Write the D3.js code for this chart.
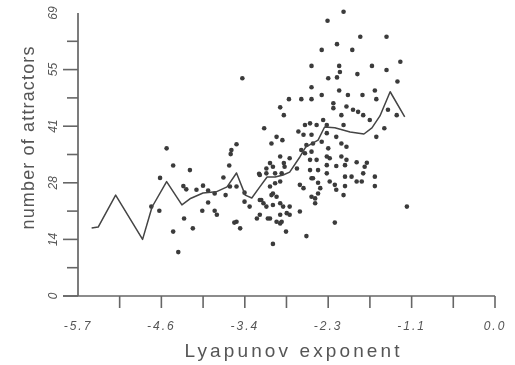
<!DOCTYPE html>
<html>
<head>
<meta charset="utf-8">
<script src="https://cdn.jsdelivr.net/npm/d3@7"></script>
<style>
  body { margin: 0; background: #fff; }
  svg { display: block; }
  .tick-label { font-family: "Liberation Sans", Arial, sans-serif; font-style: italic; fill: #555; }
  .title { font-family: "Liberation Sans", Arial, sans-serif; fill: #555; }
</style>
</head>
<body>
<div id="vis"></div>
<script>
const FRAME_WIDTH = 515;
const FRAME_HEIGHT = 365;
const MARGINS = {left: 78, right: 20, top: 13, bottom: 69};

// x ticks (every 0.5727) and the labelled ones
const xTickValues = [-5.727, -5.155, -4.582, -4.009, -3.436, -2.864, -2.291, -1.718, -1.145, -0.573, 0];
const xTickLabels = ["-5.7", "", "-4.6", "", "-3.4", "", "-2.3", "", "-1.1", "", "0.0"];
// y ticks (every 6.9) and the labelled ones
const yTickValues = [0, 6.9, 13.8, 20.7, 27.6, 34.5, 41.4, 48.3, 55.2, 62.1, 69];
const yTickLabels = ["0", "", "14", "", "28", "", "41", "", "55", "", "69"];

// mean curve
const lineX = [-5.54, -5.45, -5.21, -4.84, -4.71, -4.51, -4.30, -4.19, -4.01, -3.83, -3.68, -3.55, -3.43,
               -3.34, -3.23, -3.13, -3.02, -2.91, -2.82, -2.68, -2.60, -2.43, -2.34, -2.20, -1.99, -1.80,
               -1.69, -1.58, -1.44, -1.24];
const lineY = [16.6, 16.8, 24.6, 13.8, 21.7, 27.9, 22.2, 23.7, 25.1, 25.4, 26.6, 30.0, 24.6,
               23.9, 26.6, 29.0, 29.0, 29.5, 30.2, 33.9, 36.3, 38.0, 41.2, 41.0, 40.0, 39.5,
               41.0, 43.9, 49.8, 43.7];

// scatter points
const dotX = [-4.51, -4.42, -4.19, -4.60, -4.61, -4.72, -4.42, -4.35, -4.27, -4.15, -4.28, -4.24, -4.10,
              -4.01, -3.94, -3.85, -3.94, -4.02, -3.85, -3.82, -3.70, -3.73, -3.65, -3.62, -3.55, -3.63,
              -3.55, -3.50, -3.44, -3.44, -3.37, -3.47, -3.27, -3.23, -3.21, -3.18, -3.17, -3.24, -3.14,
              -3.09, -3.07, -3.00, -2.95, -2.90, -2.83, -2.92, -2.95, -2.90, -3.02, -2.93, -3.05, -3.00,
              -3.14, -3.05, -2.95, -3.09, -3.00, -2.93, -3.05, -2.87, -2.86, -3.64, -3.55, -3.58, -3.14,
              -3.23, -3.09, -3.02, -2.95, -3.07, -3.23, -2.91, -2.82, -2.82, -2.95, -3.12, -2.95, -2.89,
              -2.72, -2.82, -3.05,
              -2.52, -2.52, -2.66, -2.52, -2.54, -2.70, -2.63, -2.66, -2.59, -2.54, -2.54, -2.52, -2.68,
              -2.63, -2.52, -2.68, -2.59,
              -2.08, -2.30, -1.85, -2.17, -2.38, -1.96, -2.14, -1.69, -2.29, -2.17, -2.13, -1.89, -2.38,
              -2.14, -2.02, -1.82, -1.65, -1.63, -2.22, -2.22, -2.04, -1.95, -1.88, -2.11, -1.81, -1.72,
              -2.36, -2.31, -2.61, -2.45, -2.08, -2.31, -2.18, -1.63, -2.52, -2.50, -2.38, -2.29, -2.11,
              -2.04, -2.61, -2.52, -2.31, -2.27, -2.11, -2.45, -2.04, -2.06, -1.90, -1.76, -1.79, -2.31,
              -2.18, -2.43, -2.31, -2.50, -2.43, -2.27, -2.20, -2.06, -1.97, -1.90, -1.83, -1.81, -1.65,
              -1.65, -2.40, -2.43, -2.18, -2.06, -2.08, -2.47, -2.47, -2.20, -1.49, -1.30, -1.49, -1.34,
              -1.47, -1.35, -1.52, -1.21];
const dotY = [36.0, 31.8, 30.7, 28.8, 20.8, 21.8, 15.7, 10.7, 18.9, 16.5, 26.8, 26.0, 25.9,
              26.9, 25.7, 25.0, 22.8, 20.8, 20.8, 19.8, 24.6, 28.9, 31.8, 35.6, 37.0, 34.6,
              18.1, 16.5, 25.2, 23.0, 21.8, 53.1, 18.9, 19.8, 23.4, 22.6, 40.9, 29.8, 31.1,
              32.4, 37.2, 38.8, 46.0, 44.1, 48.0, 38.0, 34.0, 32.4, 29.9, 29.9, 25.0, 24.2,
              21.8, 22.2, 22.6, 18.9, 18.1, 18.1, 12.7, 15.7, 20.2, 26.7, 26.7, 17.9, 29.9,
              29.5, 26.7, 27.5, 27.9, 24.6, 23.4, 21.8, 21.8, 19.8, 19.8, 18.9, 17.7, 31.5,
              31.1, 33.6, 31.5,
              56.1, 50.9, 48.0, 48.0, 42.1, 40.1, 39.3, 35.6, 36.8, 33.2, 30.7, 28.7, 27.1,
              26.3, 24.2, 20.6, 14.6,
              69.3, 67.1, 63.2, 61.4, 60.0, 60.0, 56.1, 56.1, 53.1, 53.3, 54.6, 54.1, 49.0,
              50.1, 49.0, 49.0, 50.1, 48.0, 47.0, 45.8, 46.2, 45.4, 44.9, 44.1, 44.1, 42.9,
              42.9, 41.7, 41.7, 41.7, 41.7, 39.7, 38.8, 38.8, 39.3, 37.2, 37.6, 36.0, 37.2,
              36.4, 34.8, 35.2, 34.0, 33.6, 34.0, 33.2, 33.2, 31.9, 32.6, 32.5, 31.5, 31.9,
              31.7, 30.7, 29.9, 28.7, 27.6, 27.9, 27.1, 29.1, 29.1, 27.9, 27.9, 29.9, 29.1,
              26.8, 26.3, 25.0, 25.9, 26.8, 24.6, 23.8, 22.6, 17.9, 63.2, 57.1, 55.1, 52.3,
              45.4, 44.1, 40.9, 21.8];

const VIS_WIDTH = FRAME_WIDTH - MARGINS.left - MARGINS.right;
const VIS_HEIGHT = FRAME_HEIGHT - MARGINS.top - MARGINS.bottom;

const SVG = d3.select("#vis")
              .append("svg")
                .attr("width", FRAME_WIDTH)
                .attr("height", FRAME_HEIGHT);

// the source picture is a soft scan, so blur everything a little
SVG.append("defs")
   .append("filter")
     .attr("id", "soft")
   .append("feGaussianBlur")
     .attr("stdDeviation", 0.5);

const FRAME = SVG.append("g").attr("filter", "url(#soft)");

const X_SCALE = d3.scaleLinear()
                  .domain([-5.727, 0])
                  .range([MARGINS.left, 495]);

const Y_SCALE = d3.scaleLinear()
                  .domain([0, 69])
                  .range([MARGINS.top + VIS_HEIGHT, MARGINS.top]);

const AXIS_COLOR = "#666";

// y axis line + ticks (long on labelled ones)
FRAME.append("line")
      .attr("x1", MARGINS.left).attr("x2", MARGINS.left)
      .attr("y1", Y_SCALE(69)).attr("y2", Y_SCALE(0))
      .attr("stroke", AXIS_COLOR).attr("stroke-width", 1.7);

FRAME.selectAll(".ytick")
    .data(yTickValues.slice(0, -1))
    .enter()
    .append("line")
      .attr("class", "ytick")
      .attr("x1", (d, i) => MARGINS.left - (i % 2 === 0 ? 15 : 11))
      .attr("x2", MARGINS.left)
      .attr("y1", (d) => Y_SCALE(d))
      .attr("y2", (d) => Y_SCALE(d))
      .attr("stroke", AXIS_COLOR).attr("stroke-width", 1.6);

FRAME.selectAll(".ylab")
    .data(yTickValues)
    .enter()
    .append("text")
      .attr("class", "tick-label")
      .attr("transform", (d) => "translate(57," + Y_SCALE(d) + ") rotate(-90)")
      .attr("text-anchor", "middle")
      .attr("font-size", "12px")
      .text((d, i) => yTickLabels[i]);

// x axis line + ticks
FRAME.append("line")
      .attr("x1", MARGINS.left - 15).attr("x2", X_SCALE(0))
      .attr("y1", Y_SCALE(0)).attr("y2", Y_SCALE(0))
      .attr("stroke", AXIS_COLOR).attr("stroke-width", 1.7);

FRAME.selectAll(".xtick")
    .data(xTickValues.slice(1))
    .enter()
    .append("line")
      .attr("class", "xtick")
      .attr("x1", (d) => X_SCALE(d))
      .attr("x2", (d) => X_SCALE(d))
      .attr("y1", Y_SCALE(0))
      .attr("y2", Y_SCALE(0) + 12)
      .attr("stroke", AXIS_COLOR).attr("stroke-width", 1.6);

FRAME.selectAll(".xlab")
    .data(xTickValues)
    .enter()
    .append("text")
      .attr("class", "tick-label")
      .attr("x", (d) => X_SCALE(d))
      .attr("y", 330)
      .attr("text-anchor", "middle")
      .attr("font-size", "12px")
      .attr("letter-spacing", "2px")
      .text((d, i) => xTickLabels[i]);

// axis titles
FRAME.append("text")
      .attr("class", "title")
      .attr("x", 292).attr("y", 357)
      .attr("text-anchor", "middle")
      .attr("font-size", "19px")
      .attr("textLength", 215)
      .attr("lengthAdjust", "spacing")
      .text("Lyapunov exponent");

FRAME.append("text")
      .attr("class", "title")
      .attr("transform", "translate(34,138) rotate(-90)")
      .attr("text-anchor", "middle")
      .attr("font-size", "18px")
      .attr("textLength", 183)
      .attr("lengthAdjust", "spacing")
      .text("number of attractors");

// scatter
FRAME.selectAll(".dot")
    .data(dotX)
    .enter()
    .append("circle")
      .attr("class", "dot")
      .attr("cx", (d) => X_SCALE(d))
      .attr("cy", (d, i) => Y_SCALE(dotY[i]))
      .attr("r", 2.3)
      .attr("fill", "#3a3a3a");

// mean curve
const line = d3.line()
               .x((d) => X_SCALE(d))
               .y((d, i) => Y_SCALE(lineY[i]));

FRAME.append("path")
      .datum(lineX)
      .attr("d", line)
      .attr("fill", "none")
      .attr("stroke", "#444")
      .attr("stroke-width", 1.5)
      .attr("stroke-linejoin", "round");
</script>
</body>
</html>
